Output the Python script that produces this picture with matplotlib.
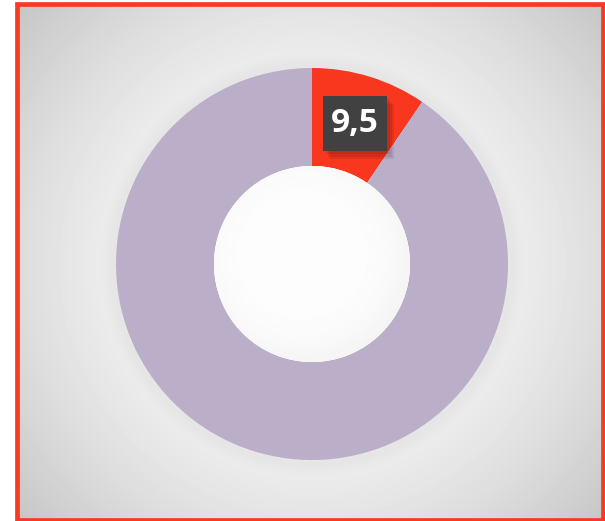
import numpy as np
import matplotlib.pyplot as plt
from matplotlib.patches import Rectangle, Circle

# data
labels = ["A", "B"]
values = [9.5, 90.5]
colors = ["#F9361E", "#BAAEC8"]
label_text = ["9,5", ""]

W, H = 605, 521
fig = plt.figure(figsize=(W / 100, H / 100), dpi=100)
fig.patch.set_facecolor("white")

# frame area in pixels
fx0, fy0, fx1, fy1 = 17, 4, 603, 520
cx, cy = 312, 264  # donut centre (pixels from top-left)

bg = fig.add_axes([fx0 / W, 1 - fy1 / H, (fx1 - fx0) / W, (fy1 - fy0) / H])
bg.set_axis_off()
yy, xx = np.mgrid[fy0:fy1, fx0:fx1]
d = np.hypot(xx - cx, yy - cy)
# light halo near ring, darker towards corners, soft dark band just outside ring
shade = 0.935 - 0.17 * np.clip((d - 180) / 220, 0, 1) ** 1.3
band = np.exp(-((d - 198) / 9.0) ** 2) * 0.03
shade = np.clip(shade - band, 0, 1)
bg.imshow(shade, cmap="gray", vmin=0, vmax=1, aspect="auto",
          extent=[0, 1, 0, 1], interpolation="bilinear")
bg.set_xlim(0, 1)
bg.set_ylim(0, 1)
bg.add_patch(Rectangle((0, 0), 1, 1, transform=bg.transAxes, fill=False,
                       edgecolor="#F93A22", linewidth=3.4, clip_on=False))

# pie axes, 400 px square around centre, radius 196 px
S = 400
ax = fig.add_axes([(cx - S / 2) / W, (H - cy - S / 2) / H, S / W, S / H])
ax.set_axis_off()

wedges, _ = ax.pie(values, colors=colors, startangle=90, counterclock=False,
                   radius=1.0, wedgeprops=dict(width=0.5, linewidth=0))
for w in wedges:
    w.set_zorder(2)

lim = (S / 2) / 196.0

# hole with inner shadow
hole = Circle((0, 0), 0.5, facecolor="white", edgecolor="none", zorder=3)
ax.add_patch(hole)
g = np.linspace(-0.5, 0.5, 200)
hx, hy = np.meshgrid(g, g[::-1])
dd = np.hypot(hx + 0.05, hy - 0.05) / 0.5
hole_shade = np.clip(0.99 - 0.08 * np.clip(dd - 0.6, 0, None) ** 1.5, 0, 1)
im = ax.imshow(hole_shade, cmap="gray", vmin=0, vmax=1,
               extent=[-0.5, 0.5, -0.5, 0.5], zorder=4, interpolation="bilinear")
im.set_clip_path(hole)
ax.set_xlim(-lim, lim)
ax.set_ylim(-lim, lim)
ax.set_aspect("equal")

# data label
total = sum(values)
ang = np.deg2rad(90 - 360 * values[0] / total / 2)
lx, ly = 0.75 * np.cos(ang), 0.75 * np.sin(ang)
bw, bh = 64 / 196.0, 55 / 196.0
for k, a in enumerate([0.08, 0.08, 0.08]):
    off = 0.012 * (k + 1)
    ax.add_patch(Rectangle((lx - bw / 2 + off, ly - bh / 2 - off * 1.2), bw, bh,
                           facecolor="black", alpha=a, edgecolor="none", zorder=5))
ax.add_patch(Rectangle((lx - bw / 2, ly - bh / 2), bw, bh,
                       facecolor="#414141", edgecolor="none", zorder=6))
ax.text(lx, ly, label_text[0], ha="center", va="center", color="white",
        fontsize=24, fontweight="bold", family=["Open Sans", "DejaVu Sans"],
        zorder=7)

fig.savefig("out.png", dpi=100)
